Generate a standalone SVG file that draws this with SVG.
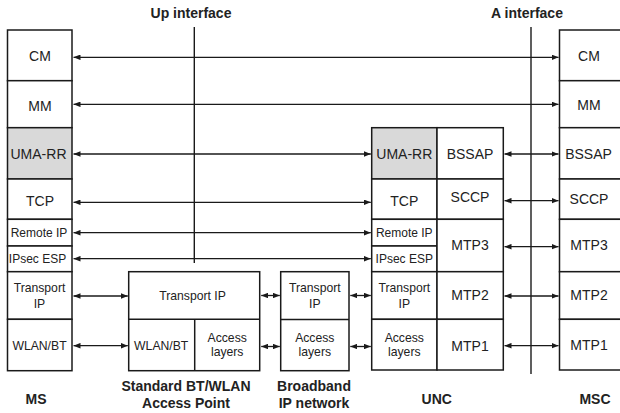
<svg xmlns="http://www.w3.org/2000/svg" width="620" height="413" viewBox="0 0 620 413">
  <style>
    .box { fill: #fff; stroke: #1a1a1a; stroke-width: 1.5; }
    .shade { fill: #d9d9d9; stroke: #1a1a1a; stroke-width: 1.5; }
    .div { stroke: #1a1a1a; stroke-width: 1.5; fill: none; }
    .t { font-family: "Liberation Sans", Arial, sans-serif; font-size: 14px; fill: #222; text-anchor: middle; }
    .s { font-family: "Liberation Sans", Arial, sans-serif; font-size: 12.2px; fill: #222; text-anchor: middle; }
    .xs { font-family: "Liberation Sans", Arial, sans-serif; font-size: 12px; fill: #222; text-anchor: middle; }
    .b { font-family: "Liberation Sans", Arial, sans-serif; font-size: 14px; font-weight: bold; fill: #222; text-anchor: middle; }
    .link { stroke: #1a1a1a; stroke-width: 1.3; fill: none; marker-start: url(#head); marker-end: url(#head); }
    .iface { stroke: #1a1a1a; stroke-width: 1.4; fill: none; }
  </style>
  <defs>
    <marker id="head" viewBox="0 0 10 8" refX="10" refY="4" markerWidth="7" markerHeight="5.6" markerUnits="userSpaceOnUse" orient="auto-start-reverse">
      <path d="M0,0 L10,4 L0,8 Z" fill="#1a1a1a"/>
    </marker>
  </defs>

  <rect width="620" height="413" fill="#fff"/>

  <!-- interface labels and lines -->
  <g id="interfaces">
    <text class="b" x="191" y="18">Up interface</text>
    <text class="b" x="527" y="18">A interface</text>
    <line class="iface" x1="194.3" y1="27" x2="194.3" y2="263"/>
    <line class="iface" x1="531" y1="27" x2="531" y2="374"/>
  </g>

  <!-- MS protocol stack -->
  <g id="ms">
    <rect class="box" x="7.5" y="30" width="64.5" height="50.7"/>
    <rect class="box" x="7.5" y="80.7" width="64.5" height="47"/>
    <rect class="shade" x="7.5" y="127.7" width="64.5" height="51.3"/>
    <rect class="box" x="7.5" y="179" width="64.5" height="40.3"/>
    <rect class="box" x="7.5" y="219.3" width="64.5" height="26.7"/>
    <rect class="box" x="7.5" y="246" width="64.5" height="25.7"/>
    <rect class="box" x="7.5" y="271.7" width="64.5" height="47.6"/>
    <rect class="box" x="7.5" y="319.3" width="64.5" height="51.4"/>
    <text class="t" x="40" y="60.5">CM</text>
    <text class="t" x="40" y="110.5">MM</text>
    <text class="t" x="38.5" y="159">UMA-RR</text>
    <text class="t" x="40" y="206">TCP</text>
    <text class="xs" x="39" y="237">Remote IP</text>
    <text class="xs" x="37.5" y="263">IPsec ESP</text>
    <text class="s" x="39.5" y="292">Transport</text>
    <text class="s" x="39.5" y="308">IP</text>
    <text class="s" x="39.5" y="350">WLAN/BT</text>
    <text class="b" x="36" y="404">MS</text>
  </g>

  <!-- Access point stack -->
  <g id="ap">
    <rect class="box" x="128.7" y="271.7" width="131" height="99"/>
    <line class="div" x1="128.7" y1="319.3" x2="259.7" y2="319.3"/>
    <line class="div" x1="194.7" y1="319.3" x2="194.7" y2="370.7"/>
    <text class="s" x="192.5" y="300">Transport IP</text>
    <text class="s" x="161.2" y="350">WLAN/BT</text>
    <text class="s" x="227.2" y="341.7">Access</text>
    <text class="s" x="227.2" y="356">layers</text>
    <text class="b" x="186" y="391">Standard BT/WLAN</text>
    <text class="b" x="186" y="408">Access Point</text>
  </g>

  <!-- Broadband IP network stack -->
  <g id="broadband">
    <rect class="box" x="280.7" y="271.7" width="68.3" height="99"/>
    <line class="div" x1="280.7" y1="319.6" x2="349" y2="319.6"/>
    <text class="s" x="314.8" y="292">Transport</text>
    <text class="s" x="314.8" y="308">IP</text>
    <text class="s" x="314.8" y="341.7">Access</text>
    <text class="s" x="314.8" y="356">layers</text>
    <text class="b" x="314" y="391">Broadband</text>
    <text class="b" x="314" y="408">IP network</text>
  </g>

  <!-- UNC stack -->
  <g id="unc">
    <rect class="shade" x="371.7" y="127.7" width="65.3" height="51.3"/>
    <rect class="box" x="437" y="127.7" width="66.3" height="51.3"/>
    <rect class="box" x="371.7" y="179" width="65.3" height="40.3"/>
    <rect class="box" x="437" y="179" width="66.3" height="40.3"/>
    <rect class="box" x="371.7" y="219.3" width="65.3" height="26.7"/>
    <rect class="box" x="371.7" y="246" width="65.3" height="25.7"/>
    <rect class="box" x="437" y="219.3" width="66.3" height="52.4"/>
    <rect class="box" x="371.7" y="271.7" width="65.3" height="47.6"/>
    <rect class="box" x="437" y="271.7" width="66.3" height="47.6"/>
    <rect class="box" x="371.7" y="319.3" width="65.3" height="50.7"/>
    <rect class="box" x="437" y="319.3" width="66.3" height="50.7"/>
    <text class="t" x="404.3" y="159">UMA-RR</text>
    <text class="t" x="470" y="159">BSSAP</text>
    <text class="t" x="404.3" y="206">TCP</text>
    <text class="t" x="470" y="201.5">SCCP</text>
    <text class="xs" x="404.3" y="237">Remote IP</text>
    <text class="xs" x="404.3" y="263">IPsec ESP</text>
    <text class="t" x="470" y="250">MTP3</text>
    <text class="s" x="404.3" y="292">Transport</text>
    <text class="s" x="404.3" y="308">IP</text>
    <text class="t" x="470" y="300">MTP2</text>
    <text class="s" x="404.3" y="341.7">Access</text>
    <text class="s" x="404.3" y="356">layers</text>
    <text class="t" x="470" y="350.5">MTP1</text>
    <text class="b" x="436.7" y="404">UNC</text>
  </g>

  <!-- MSC stack -->
  <g id="msc">
    <rect class="box" x="559.5" y="30" width="70" height="50.7"/>
    <rect class="box" x="559.5" y="80.7" width="70" height="47"/>
    <rect class="box" x="559.5" y="127.7" width="70" height="51.3"/>
    <rect class="box" x="559.5" y="179" width="70" height="40.3"/>
    <rect class="box" x="559.5" y="219.3" width="70" height="52.4"/>
    <rect class="box" x="559.5" y="271.7" width="70" height="47.6"/>
    <rect class="box" x="559.5" y="319.3" width="70" height="50.7"/>
    <text class="t" x="589" y="60.5">CM</text>
    <text class="t" x="589" y="110">MM</text>
    <text class="t" x="588.5" y="159">BSSAP</text>
    <text class="t" x="589" y="204">SCCP</text>
    <text class="t" x="589" y="250">MTP3</text>
    <text class="t" x="589" y="300">MTP2</text>
    <text class="t" x="589" y="350">MTP1</text>
    <text class="b" x="595" y="404">MSC</text>
  </g>

  <!-- peer-to-peer connectors -->
  <g id="connectors">
    <line class="link" x1="73.5" y1="57.3" x2="558.5" y2="57.3"/>
    <line class="link" x1="73.5" y1="104.3" x2="558.5" y2="104.3"/>
    <line class="link" x1="73.5" y1="154" x2="370.8" y2="154"/>
    <line class="link" x1="73.5" y1="202.3" x2="370.8" y2="202.3"/>
    <line class="link" x1="73.5" y1="232.7" x2="370.8" y2="232.7"/>
    <line class="link" x1="73.5" y1="258.7" x2="370.8" y2="258.7"/>
    <line class="link" x1="73.5" y1="296" x2="127.8" y2="296"/>
    <line class="link" x1="73.5" y1="345.7" x2="127.8" y2="345.7"/>
    <line class="link" x1="261.2" y1="295.5" x2="279.8" y2="295.5"/>
    <line class="link" x1="261.2" y1="346.5" x2="279.8" y2="346.5"/>
    <line class="link" x1="350.3" y1="295.5" x2="370.8" y2="295.5"/>
    <line class="link" x1="350.3" y1="346.5" x2="370.8" y2="346.5"/>
    <line class="link" x1="504.5" y1="154" x2="558.5" y2="154"/>
    <line class="link" x1="504.5" y1="200.7" x2="558.5" y2="200.7"/>
    <line class="link" x1="504.5" y1="246.7" x2="558.5" y2="246.7"/>
    <line class="link" x1="504.5" y1="296" x2="558.5" y2="296"/>
    <line class="link" x1="504.5" y1="345.7" x2="558.5" y2="345.7"/>
  </g>
</svg>
